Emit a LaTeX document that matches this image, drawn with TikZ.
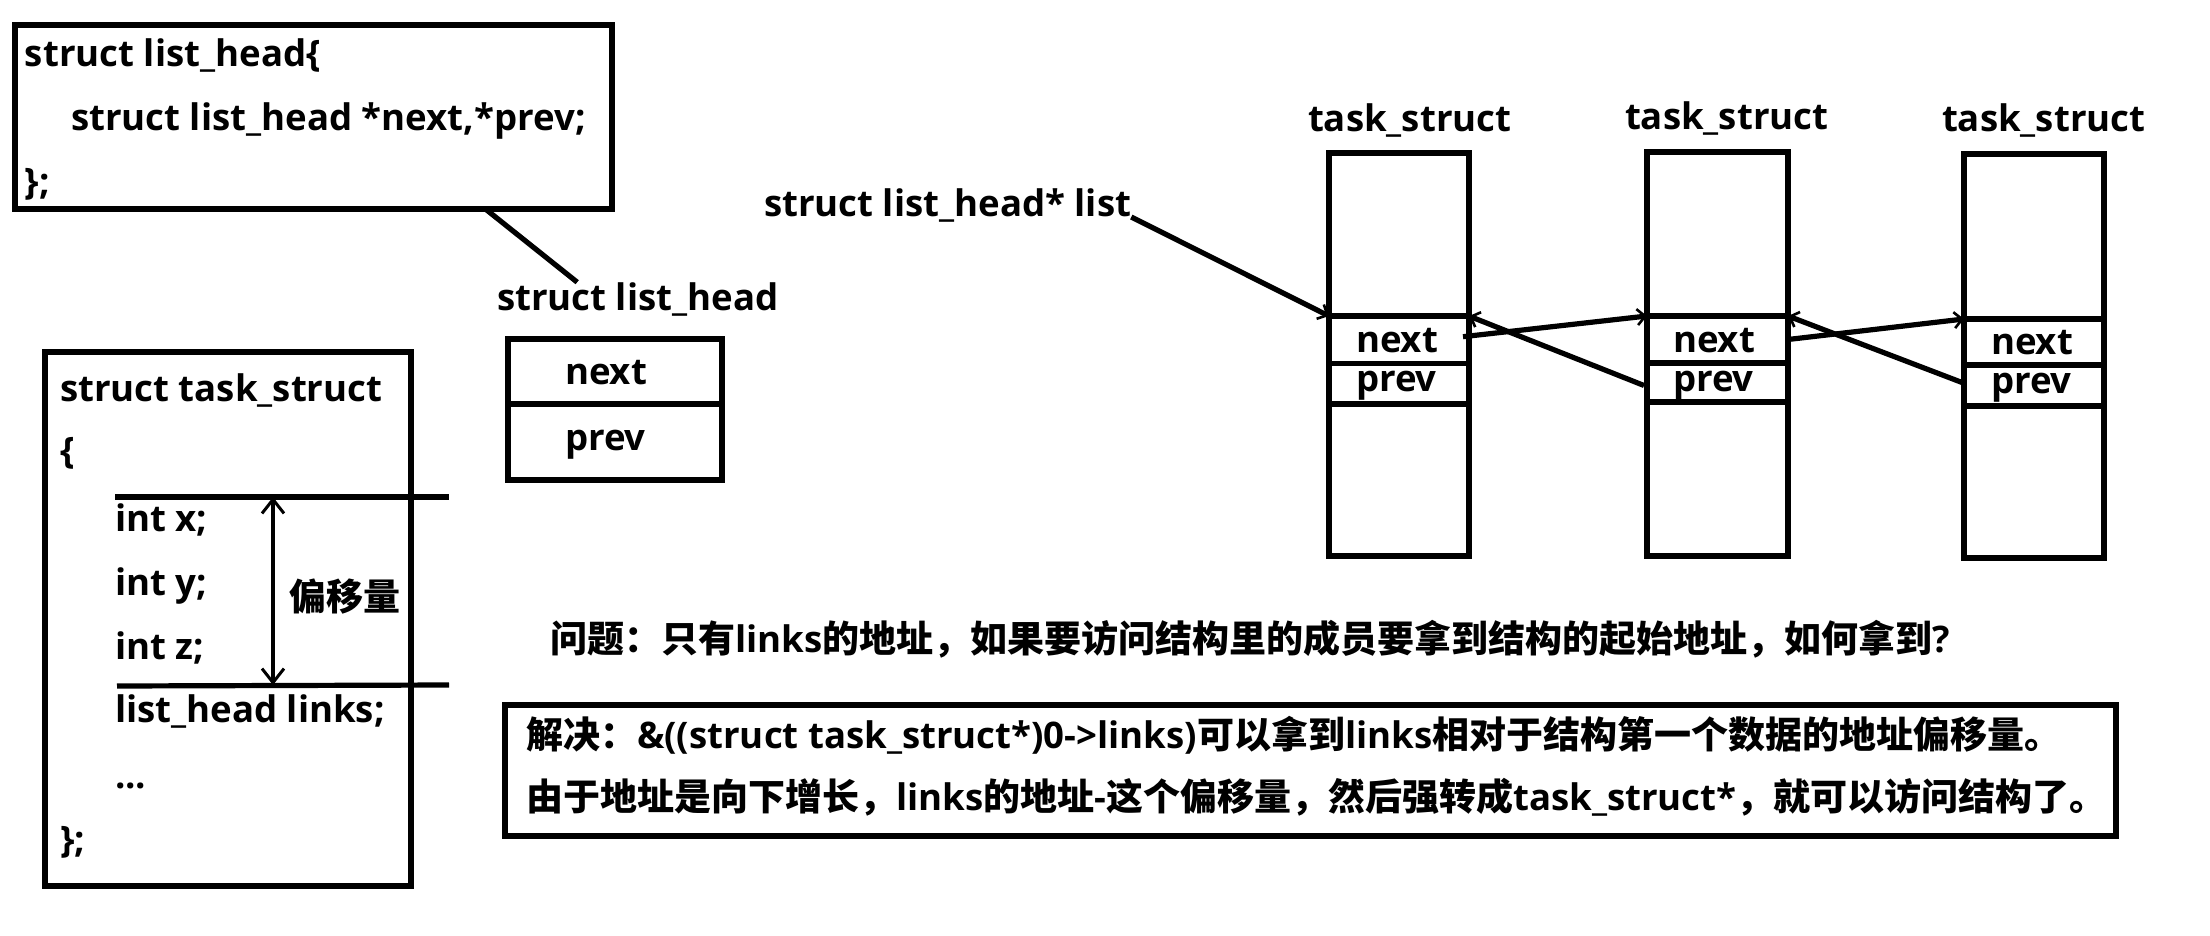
\documentclass[tikz,border=0pt]{standalone}
\usepackage{fontspec}
\setmainfont{Open Sans}
\newfontfamily\cjkfont{Noto Sans CJK SC}[Scale=1.011]
\newcommand\zh[1]{{\cjkfont\bfseries #1}}
\usetikzlibrary{arrows.meta,calc}
\begin{document}
\begin{tikzpicture}[x=0.5pt,y=-0.5pt,
  every node/.style={font=\bfseries\fontsize{18.3}{22}\selectfont},
  txt/.style={anchor=base west,inner sep=0pt,outer sep=0pt},
  box/.style={draw,line width=2.8pt,inner sep=0pt,outer sep=0pt},
  cell/.style={draw,line width=2.6pt,inner sep=0pt,outer sep=0pt},
  link/.style={line width=2.6pt,-{Straight Barb[length=4pt,width=8pt,line width=1.3pt]}},
  rule/.style={line width=2.6pt}]
\useasboundingbox (0,0) rectangle (2210,936);
\fill[white] (0,0) rectangle (2210,936);

% struct list_head definition
\node[box,minimum width=298.5pt,minimum height=92pt] (LH) at (313.5,117) {};
\node[txt] (lh1) at (25,67) {struct list\_head\{};
\node[txt] (lh2) at (71,131) {struct list\_head *next,*prev;};
\node[txt] (lh3) at (25,195) {\};};

\node[txt] (lhlab) at (497,310) {struct list\_head};
\draw[rule] ($(LH.south west)!0.788!(LH.south east)$) -- ($(lhlab.north west)!0.285!(lhlab.north east)$);

% small list_head box
\node[cell,minimum width=107pt,minimum height=32.5pt] (SBn) at (615,371.5) {};
\node[cell,minimum width=107pt,minimum height=38pt] (SBp) at (615,442) {};
\node[txt] (sbnt) at (565,384) {next};
\node[txt] (sbpt) at (565,450) {prev};

% struct task_struct definition
\node[box,minimum width=183pt,minimum height=267pt] (TS) at (228,619) {};
\node[txt] (ts1) at (60,401) {struct task\_struct};
\node[txt] (ts2) at (60,463) {\{};
\node[txt] (ts3) at (115,531) {int x;};
\node[txt] (ts4) at (115,595) {int y;};
\node[txt] (ts5) at (115,659) {int z;};
\node[txt] (ts6) at (115,722) {list\_head links;};
\node[txt] (ts7) at (115,788) {...};
\node[txt] (ts8) at (60,852) {\};};

\coordinate (u1) at (115,497); \coordinate (u2) at (449,497);
\coordinate (d1) at (117,686); \coordinate (d2) at (449,685);
\draw[rule] (u1) -- (u2);
\draw[rule] (d1) -- (d2);
\coordinate (ua) at (273,497); \coordinate (da) at (273,685);
\draw[line width=2.2pt,{Straight Barb[length=7pt,width=11pt,line width=1.5pt]}-{Straight Barb[length=7pt,width=11pt,line width=1.5pt]}] (ua) -- (da);
\node[anchor=west,inner sep=0pt] (off) at (289,597) {\zh{偏移量}};

% right side
\node[txt] (ptr) at (764,217) {struct list\_head* list};
\node[txt] (lab1) at (1308,132) {task\_struct};
\node[txt] (lab2) at (1625,130) {task\_struct};
\node[txt] (lab3) at (1942,132) {task\_struct};

\node[box,minimum width=70pt,minimum height=201.5pt] (T1) at (1399,354.5) {};
\node[cell,minimum width=70pt,minimum height=23.65pt] (T1n) at (1399,339.7) {};
\node[cell,minimum width=70pt,minimum height=20.35pt] (T1p) at (1399,383.7) {};
\node[txt] at (1356,352.7) {next};
\node[txt] at (1356,391.7) {prev};

\node[box,minimum width=70.5pt,minimum height=202pt] (T2) at (1717.5,354) {};
\node[cell,minimum width=70.5pt,minimum height=23.5pt] (T2n) at (1717.5,339.5) {};
\node[cell,minimum width=70.5pt,minimum height=19.5pt] (T2p) at (1717.5,382.5) {};
\node[txt] at (1673,352.7) {next};
\node[txt] at (1673,391.7) {prev};

\node[box,minimum width=70pt,minimum height=202pt] (T3) at (2034,356) {};
\node[cell,minimum width=70pt,minimum height=23pt] (T3n) at (2034,342) {};
\node[cell,minimum width=70pt,minimum height=20.5pt] (T3p) at (2034,385.5) {};
\node[txt] at (1991,354) {next};
\node[txt] at (1991,393) {prev};

\draw[link] (ptr.base east) -- (T1n.north west);
\draw[link] ($(T1n.east)+(-6,-3)$) -- (T2n.north west);
\draw[link] ($(T2p.west)+(-3,3)$) -- (T1n.north east);
\draw[link] (T2n.east) -- (T3n.north west);
\draw[link] ($(T3p.west)+(-2,-3)$) -- (T2n.north east);

% question and answer
\node[txt] (q) at (550,652) {\zh{问题：只有}links\zh{的地址，如果要访问结构里的成员要拿到结构的起始地址，如何拿到}?};
\node[box,minimum width=805.5pt,minimum height=65.5pt] (AB) at (1310.5,770.5) {};
\node[txt] (a1) at (526,748) {\zh{解决：}\&((struct task\_struct*)0->links)\zh{可以拿到}links\zh{相对于结构第一个数据的地址偏移量。}};
\node[txt] (a2) at (526,810) {\zh{由于地址是向下增长，}links\zh{的地址}-\zh{这个偏移量，然后强转成}task\_struct*\zh{，就可以访问结构了。}};
\end{tikzpicture}
\end{document}
